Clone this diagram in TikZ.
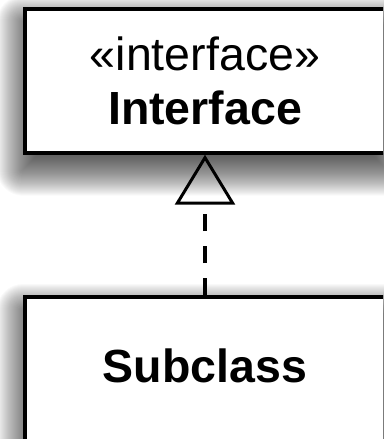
\documentclass[tikz,border=0pt]{standalone}
\usepackage{fontspec}
\setmainfont{Liberation Sans}
\usetikzlibrary{arrows.meta,backgrounds}

\begin{document}
\begin{tikzpicture}[x=1pt,y=1pt]
      \tikzstyle{every node}+=[inner sep=0pt]
      \tikzstyle{umlbox}=[draw=black, line width=4pt, fill=white, minimum width=360pt, minimum height=144pt, align=center, font=\fontsize{46.5}{54}\selectfont]
      \useasboundingbox (0,0) rectangle (383,-439);
      \clip (0,0) rectangle (383,-439);
      \node [umlbox] (iface) at (205,-80.7) {«interface»\\\textbf{Interface}};
      \node [umlbox, text depth=6pt] (sub) at (205,-369) {\textbf{Subclass}};
      \draw [black, line width=3.5pt, dash pattern=on 17.5pt off 14.5pt, -{Triangle[open, length=50pt, width=60pt, line width=3pt]}] (sub) -- (iface);
      % soft drop shadow: stacked translucent rectangles
      \begin{pgfonlayer}{background}
        \foreach \b in {iface,sub}
          \foreach \r in {-15,...,26} {
            \pgfmathsetmacro\up{\r-15}
            \pgfmathsetmacro\dn{-\r-15}
            \pgfmathsetmacro\rc{max(\r,0.1)}
            \fill [black, opacity=0.022, rounded corners=\rc pt]
              ([xshift=-\r pt, yshift=\up pt]\b.north west) rectangle ([xshift=\r pt, yshift=\dn pt]\b.south east);
          }
      \end{pgfonlayer}
    \end{tikzpicture}
\end{document}
